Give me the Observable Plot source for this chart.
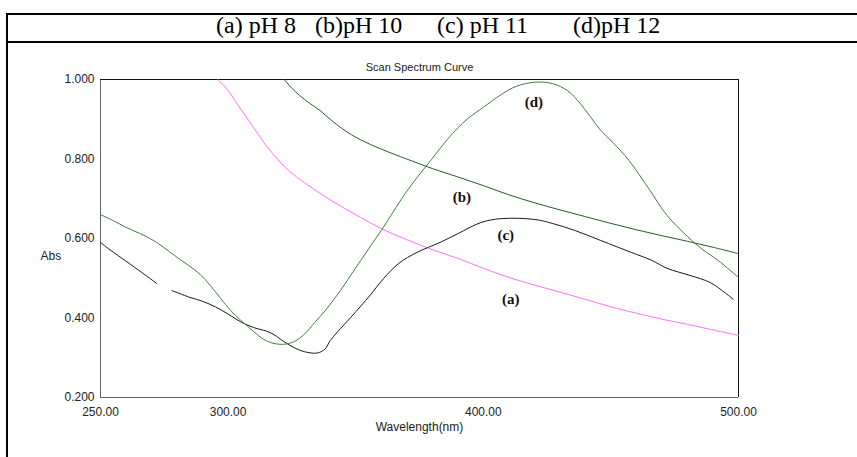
<!DOCTYPE html>
<html>
<head>
<meta charset="utf-8">
<script src="https://cdn.jsdelivr.net/npm/d3@7"></script>
<script src="https://cdn.jsdelivr.net/npm/@observablehq/plot@0.6"></script>
<style>
  html, body { margin: 0; padding: 0; background: #fff; }
  #wrap { position: relative; width: 857px; height: 457px; overflow: hidden; }
  #box { position: absolute; left: 6px; top: 13px; width: 860px; height: 460px; border-left: 2px solid #000; border-top: 2px solid #000; }
  #rule { position: absolute; left: 6px; top: 41px; width: 860px; border-top: 2px solid #000; }
  .hd { position: absolute; top: 13px; font-family: "Liberation Serif", "Times New Roman", serif; font-size: 24px; line-height: 24px; color: #000; white-space: pre; }
  #chart { position: absolute; left: 0; top: 43px; }
</style>
</head>
<body>
<div id="wrap">
  <div id="box"></div>
  <div id="rule"></div>
  <div id="chart"></div>
</div>
<script>
// Header legend texts
const headerLabels = ["(a) pH 8", "(b)pH 10", "(c) pH 11", "(d)pH 12"];
const headerLeft = [216, 315, 437, 573];

// Axis ticks
const xTicks = [250, 300, 400, 500];
const yTicks = [0.2, 0.4, 0.6, 0.8, 1.0];

// (a) pH 8 — pink
const nmA  = [296, 300, 305, 310, 315, 320, 325, 330, 335, 340, 345, 350, 360, 370, 380, 390, 400, 410, 420, 430, 440, 450, 460, 470, 480, 490, 500];
const absA = [1.0, 0.972, 0.925, 0.879, 0.833, 0.795, 0.764, 0.74, 0.718, 0.697, 0.678, 0.66, 0.625, 0.597, 0.572, 0.55, 0.525, 0.502, 0.483, 0.465, 0.447, 0.428, 0.412, 0.397, 0.384, 0.37, 0.356];

// (b) pH 10 — dark green
const nmB  = [322, 325, 328, 332, 336, 340, 345, 352, 360, 370, 380, 390, 400, 410, 420, 430, 440, 450, 460, 470, 480, 490, 500];
const absB = [1.0, 0.978, 0.96, 0.94, 0.922, 0.9, 0.875, 0.848, 0.825, 0.8, 0.776, 0.755, 0.733, 0.71, 0.69, 0.672, 0.655, 0.638, 0.622, 0.607, 0.593, 0.578, 0.562];

// (c) pH 11 — black (null = gap in the trace)
const nmC  = [250, 253, 258, 265, 272, 275, 278, 285, 290, 295, 300, 305, 310, 315, 318, 322, 326, 330, 335, 338, 340, 343, 348, 352, 356, 361, 367, 374, 383, 390, 399, 407, 420, 427, 436, 446, 458, 466, 472, 481, 489, 495, 498];
const absC = [0.59, 0.575, 0.552, 0.52, 0.487, null, 0.469, 0.452, 0.442, 0.428, 0.41, 0.39, 0.376, 0.367, 0.358, 0.34, 0.325, 0.315, 0.312, 0.322, 0.343, 0.366, 0.401, 0.43, 0.46, 0.5, 0.538, 0.565, 0.59, 0.612, 0.64, 0.65, 0.648, 0.638, 0.62, 0.595, 0.565, 0.545, 0.525, 0.507, 0.489, 0.462, 0.447];

// (d) pH 12 — green
const nmD  = [250, 255, 260, 267, 272, 277, 281, 285, 289, 293, 297, 301, 305, 310, 314, 318, 322, 326, 330, 334, 338, 341, 344, 348, 352, 356, 360, 364, 368, 373, 377.5, 382, 386, 390, 394, 400, 407, 413, 420, 427, 433, 437, 442, 446, 451, 457, 465, 472, 480, 486, 492, 500];
const absD = [0.66, 0.645, 0.628, 0.608, 0.59, 0.567, 0.548, 0.53, 0.51, 0.482, 0.45, 0.419, 0.394, 0.366, 0.346, 0.336, 0.334, 0.341, 0.36, 0.389, 0.418, 0.443, 0.469, 0.507, 0.545, 0.583, 0.62, 0.66, 0.7, 0.745, 0.781, 0.818, 0.85, 0.878, 0.902, 0.93, 0.962, 0.983, 0.993, 0.99, 0.972, 0.947, 0.906, 0.872, 0.84, 0.797, 0.724, 0.658, 0.605, 0.572, 0.545, 0.502];

// In-plot curve labels
const curveLabels = ["(a)", "(b)", "(c)", "(d)"];
const labelNm  = [410.8, 391.6, 408.8, 419.8];
const labelAbs = [0.447, 0.703, 0.608, 0.942];

const series = [
  {key: "a", nm: nmA, abs: absA, color: "#ff70ff"},
  {key: "b", nm: nmB, abs: absB, color: "#21601f"},
  {key: "c", nm: nmC, abs: absC, color: "#1a1a1a"},
  {key: "d", nm: nmD, abs: absD, color: "#3f7f3f"}
];
const rows = series.flatMap(s => s.nm.map((x, i) => ({key: s.key, x, y: s.abs[i], color: s.color})));
const labels = curveLabels.map((t, i) => ({t, x: labelNm[i], y: labelAbs[i]}));

// header
const wrap = document.getElementById("wrap");
headerLabels.forEach((t, i) => {
  const d = document.createElement("div");
  d.className = "hd";
  d.style.left = headerLeft[i] + "px";
  d.textContent = t;
  wrap.appendChild(d);
});

const chart = Plot.plot({
  width: 857,
  height: 414,
  marginTop: 36,
  marginBottom: 60,
  marginLeft: 100,
  marginRight: 119,
  style: {fontFamily: "'Liberation Sans', Arial, sans-serif", fontSize: "12px", color: "#222", background: "transparent"},
  x: {domain: [250, 500], ticks: xTicks, tickFormat: d3.format(".2f"), label: null, tickSize: 0, tickPadding: 10},
  y: {domain: [0.2, 1.0], ticks: yTicks, tickFormat: d3.format(".3f"), label: null, tickSize: 0, tickPadding: 6},
  marks: [
    Plot.ruleX([250], {stroke: "#666", strokeWidth: 1}),
    Plot.ruleY([0.2], {stroke: "#666", strokeWidth: 1}),
    Plot.ruleX([500], {stroke: "#111", strokeWidth: 1}),
    Plot.ruleY([1.0], {stroke: "#111", strokeWidth: 1}),
    Plot.line(rows, {x: "x", y: "y", z: "key", stroke: "color", strokeWidth: 1, curve: "catmull-rom"}),
    Plot.text(labels, {x: "x", y: "y", text: "t", fontFamily: "'Liberation Serif', 'Times New Roman', serif", fontWeight: "bold", fontSize: 15, fill: "#111"}),
    Plot.text(["Scan Spectrum Curve"], {frameAnchor: "top", dy: -16, fontSize: 11, fill: "#222"}),
    Plot.text(["Abs"], {frameAnchor: "left", dx: -60, dy: 18, fontSize: 12, fill: "#222"}),
    Plot.text(["Wavelength(nm)"], {frameAnchor: "bottom", dy: 33, fontSize: 12, fill: "#222"})
  ]
});
document.getElementById("chart").appendChild(chart);
</script>
</body>
</html>
